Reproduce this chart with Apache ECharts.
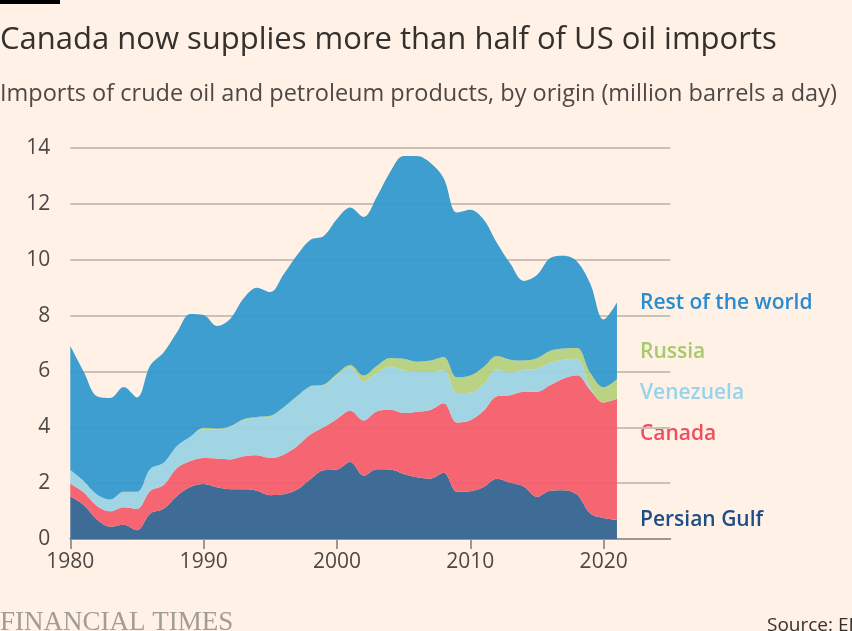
<!DOCTYPE html>
<html>
<head>
<meta charset="utf-8">
<script src="https://cdn.jsdelivr.net/npm/echarts@6/dist/echarts.min.js"></script>
<style>
html,body{margin:0;padding:0;background:#fff1e5;}
#chart{width:852px;height:631px;}
</style>
</head>
<body>
<div id="chart"></div>
<script>
// Years with data: 1980-2021; axis runs on to 2025
const axisYears = [];
for (let y = 1980; y <= 2025; y++) axisYears.push(String(y));

const totalImports = [6.91,6.00,5.11,5.05,5.44,5.07,6.22,6.68,7.40,8.06,8.02,7.63,7.89,8.62,9.00,8.84,9.48,10.16,10.71,10.85,11.46,11.87,11.53,12.26,13.15,13.71,13.71,13.47,12.92,11.69,11.79,11.44,10.60,9.86,9.24,9.45,10.06,10.14,9.94,9.14,7.86,8.47];
const persianGulf = [1.52,1.22,0.70,0.44,0.51,0.31,0.91,1.08,1.54,1.86,1.97,1.85,1.78,1.78,1.73,1.57,1.60,1.76,2.14,2.46,2.49,2.76,2.27,2.50,2.49,2.33,2.21,2.16,2.37,1.69,1.71,1.86,2.16,2.01,1.88,1.51,1.73,1.75,1.59,0.91,0.75,0.68];
const canada = [0.46,0.45,0.48,0.55,0.63,0.77,0.81,0.85,1.00,0.93,0.93,1.03,1.07,1.18,1.27,1.33,1.42,1.56,1.60,1.54,1.81,1.83,1.97,2.07,2.14,2.18,2.35,2.46,2.49,2.48,2.54,2.73,2.95,3.14,3.39,3.76,3.78,4.00,4.27,4.42,4.14,4.34];
const venezuela = [0.48,0.41,0.41,0.42,0.55,0.61,0.79,0.80,0.79,0.87,1.03,1.04,1.17,1.30,1.33,1.48,1.68,1.77,1.72,1.49,1.55,1.55,1.40,1.38,1.55,1.53,1.42,1.36,1.19,1.06,0.99,0.95,0.96,0.81,0.79,0.83,0.80,0.67,0.59,0.10,0.00,0.00];
const russia = [0.01,0.00,0.00,0.00,0.00,0.00,0.00,0.00,0.00,0.00,0.05,0.04,0.02,0.03,0.04,0.03,0.02,0.02,0.01,0.04,0.07,0.09,0.21,0.25,0.30,0.41,0.37,0.41,0.47,0.56,0.61,0.62,0.48,0.46,0.33,0.37,0.43,0.40,0.39,0.52,0.54,0.70];
const restOfWorld = totalImports.map((t, i) => +(t - persianGulf[i] - canada[i] - venezuela[i] - russia[i]).toFixed(2));

const seriesDefs = [
  {name: 'Persian Gulf', data: persianGulf, color: '#346492'},
  {name: 'Canada', data: canada, color: '#f45d6b'},
  {name: 'Venezuela', data: venezuela, color: '#9dd3e4'},
  {name: 'Russia', data: russia, color: '#b5d07e'},
  {name: 'Rest of the world', data: restOfWorld, color: '#3399ce'}
];

const FONT = '"Open Sans", Lato, sans-serif';
const isDecade = (idx, val) => Number(val) % 10 === 0 && Number(val) <= 2020;
const chart = echarts.init(document.getElementById('chart'), null, {renderer: 'canvas'});

chart.setOption({
  backgroundColor: '#fff1e5',
  animation: false,
  grid: {left: 70.3, right: 181.7, top: 148, bottom: 92, containLabel: false},
  xAxis: {
    type: 'category', data: axisYears, boundaryGap: false,
    axisLine: {show: true, lineStyle: {color: '#9e9690', width: 2}},
    axisTick: {show: true, length: 10, interval: isDecade, lineStyle: {color: '#9e9690', width: 2}},
    axisLabel: {interval: isDecade, color: '#4d4845', fontSize: 21, fontFamily: FONT, margin: 13},
    splitLine: {show: false}
  },
  yAxis: {
    type: 'value', min: 0, max: 14, interval: 2,
    axisLine: {show: false}, axisTick: {show: false},
    axisLabel: {color: '#4d4845', fontSize: 21, fontFamily: FONT, margin: 20},
    splitLine: {show: true, lineStyle: {color: '#ccc1b7', width: 2}}
  },
  series: seriesDefs.map(s => ({
    name: s.name,
    type: 'line',
    stack: 'total',
    smooth: 0.35,
    symbol: 'none',
    lineStyle: {width: 0},
    areaStyle: {color: s.color, opacity: 0.95},
    data: s.data
  })),
  graphic: [
    {type: 'rect', left: 0, top: 0, shape: {width: 60, height: 4}, style: {fill: '#000000'}},
    {type: 'text', left: 0, top: 25, style: {text: 'Canada now supplies more than half of US oil imports', font: '31px ' + FONT, fill: '#33302e'}},
    {type: 'text', left: 0, top: 82, style: {text: 'Imports of crude oil and petroleum products, by origin (million barrels a day)', font: '23.5px ' + FONT, fill: '#4d4845'}},
    {type: 'text', left: 640, top: 293, style: {text: 'Rest of the world', font: '600 21px ' + FONT, fill: '#2a8bcf'}},
    {type: 'text', left: 640, top: 342, style: {text: 'Russia', font: '600 21px ' + FONT, fill: '#a7c96c'}},
    {type: 'text', left: 640, top: 383, style: {text: 'Venezuela', font: '600 21px ' + FONT, fill: '#96d3ec'}},
    {type: 'text', left: 640, top: 424, style: {text: 'Canada', font: '600 21px ' + FONT, fill: '#f04d5d'}},
    {type: 'text', left: 640, top: 510, style: {text: 'Persian Gulf', font: '600 21px ' + FONT, fill: '#1f4d85'}},
    {type: 'text', left: 0, top: 609, style: {text: 'FINANCIAL TIMES', font: '27px "Liberation Serif", serif', fill: '#a29c97'}},
    {type: 'text', left: 767, top: 616, style: {text: 'Source: EIA', font: '19px ' + FONT, fill: '#33302e'}}
  ]
});
</script>
</body>
</html>
